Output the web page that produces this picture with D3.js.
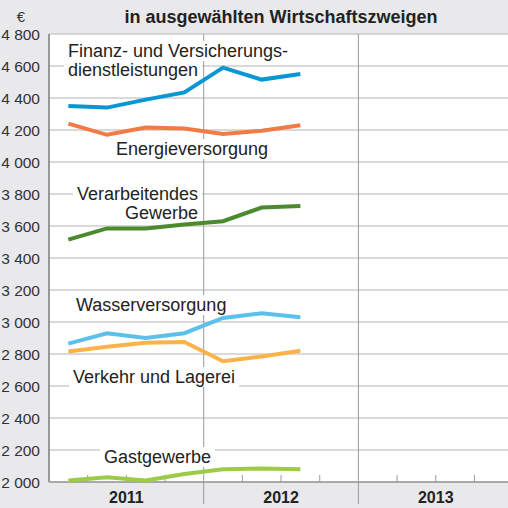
<!DOCTYPE html>
<html>
<head>
<meta charset="utf-8">
<script src="https://cdn.jsdelivr.net/npm/d3@7"></script>
<style>
  body { margin: 0; background: #e9e9eb; }
  svg { display: block; font-family: "Liberation Sans", Arial, sans-serif; }
</style>
</head>
<body>
<div id="chart"></div>
<script>
// Data: quarterly values Q1 2011 .. Q3 2012 (EUR)
const years = ["2011", "2012", "2013"];
const quarterIdx = [0, 1, 2, 3, 4, 5, 6];
const finanz = [4350, 4340, 4390, 4435, 4590, 4515, 4550];
const energie = [4240, 4170, 4215, 4210, 4175, 4195, 4230];
const verarbeitend = [3515, 3585, 3585, 3610, 3630, 3715, 3725];
const wasser = [2865, 2930, 2900, 2930, 3025, 3055, 3030];
const verkehr = [2815, 2845, 2870, 2875, 2755, 2785, 2820];
const gast = [2010, 2030, 2010, 2050, 2080, 2085, 2080];
const yTicks = [2000, 2200, 2400, 2600, 2800, 3000, 3200, 3400, 3600, 3800, 4000, 4200, 4400, 4600, 4800];

const series = [
  { name: "finanz", values: finanz, color: "#0a96d4" },
  { name: "energie", values: energie, color: "#f27b45" },
  { name: "verarbeitend", values: verarbeitend, color: "#4b8a2d" },
  { name: "wasser", values: wasser, color: "#5cc0eb" },
  { name: "verkehr", values: verkehr, color: "#fbb24b" },
  { name: "gast", values: gast, color: "#9ccb47" }
];

const W = 508, H = 508;
const plotLeft = 49, plotTop = 34, plotBottom = 482;

const svg = d3.select("#chart")
  .append("svg")
  .attr("width", W)
  .attr("height", H);

// Scales: x in quarters (3 years = 12 quarters)
const x = d3.scaleLinear().domain([0, 12]).range([plotLeft, plotLeft + 3 * 154.7]);
const y = d3.scaleLinear().domain([2000, 4800]).range([plotBottom, plotTop]);

// Plot background
svg.append("rect")
  .attr("x", plotLeft)
  .attr("y", plotTop)
  .attr("width", W - plotLeft)
  .attr("height", plotBottom - plotTop)
  .attr("fill", "#fff");

// Horizontal grid
svg.append("g")
  .selectAll("line")
  .data(yTicks)
  .enter()
  .append("line")
  .attr("x1", plotLeft)
  .attr("x2", W)
  .attr("y1", d => y(d))
  .attr("y2", d => y(d))
  .style("stroke", "#b4b4b4")
  .style("stroke-width", 1);

// Year dividers
svg.append("g")
  .selectAll("line")
  .data([4, 8])
  .enter()
  .append("line")
  .attr("x1", d => x(d))
  .attr("x2", d => x(d))
  .attr("y1", plotTop)
  .attr("y2", H - 4)
  .style("stroke", "#9a9a9a")
  .style("stroke-width", 1);

// Quarter ticks
svg.append("g")
  .selectAll("line")
  .data([1, 2, 3, 5, 6, 7, 9, 10, 11])
  .enter()
  .append("line")
  .attr("x1", d => x(d))
  .attr("x2", d => x(d))
  .attr("y1", plotBottom - 7)
  .attr("y2", plotBottom)
  .style("stroke", "#9a9a9a")
  .style("stroke-width", 1);

// Axis lines
svg.append("line")
  .attr("x1", plotLeft).attr("x2", plotLeft)
  .attr("y1", plotTop).attr("y2", plotBottom)
  .style("stroke", "#7a7a7a").style("stroke-width", 1.5);
svg.append("line")
  .attr("x1", plotLeft).attr("x2", W)
  .attr("y1", plotBottom).attr("y2", plotBottom)
  .style("stroke", "#9a9a9a").style("stroke-width", 1.5);

// Y tick labels
svg.append("g")
  .selectAll("text")
  .data(yTicks)
  .enter()
  .append("text")
  .attr("x", 40)
  .attr("y", d => y(d))
  .attr("dy", "0.36em")
  .attr("text-anchor", "end")
  .style("font-size", "15.5px")
  .style("fill", "#333")
  .text(d => d3.format(",")(d).replace(",", " "));

svg.append("text")
  .attr("x", 21).attr("y", 22)
  .attr("text-anchor", "middle")
  .style("font-size", "15px")
  .style("fill", "#333")
  .text("€");

// Title
svg.append("text")
  .attr("x", 281).attr("y", 23)
  .attr("text-anchor", "middle")
  .style("font-size", "18px")
  .style("font-weight", "700")
  .style("fill", "#222")
  .text("in ausgewählten Wirtschaftszweigen");

// Year labels
svg.append("g")
  .selectAll("text")
  .data(years)
  .enter()
  .append("text")
  .attr("x", (d, i) => x(i * 4 + 2))
  .attr("y", 503)
  .attr("text-anchor", "middle")
  .style("font-size", "16px")
  .style("font-weight", "700")
  .style("fill", "#222")
  .text(d => d);

// Series labels (white box behind each line of text)
const labels = [
  { lines: ["Finanz- und Versicherungs-", "dienstleistungen"], x: 68, y: 57, anchor: "start" },
  { lines: ["Energieversorgung"], x: 116, y: 155, anchor: "start" },
  { lines: ["Verarbeitendes", "Gewerbe"], x: 198, y: 200, anchor: "end" },
  { lines: ["Wasserversorgung"], x: 76, y: 311, anchor: "start" },
  { lines: ["Verkehr und Lagerei"], x: 73, y: 383, anchor: "start" },
  { lines: ["Gastgewerbe"], x: 104, y: 463, anchor: "start" }
];

const labelG = svg.append("g");
labels.forEach(l => {
  l.lines.forEach((t, i) => {
    const txt = labelG.append("text")
      .attr("x", l.x)
      .attr("y", l.y + i * 19)
      .attr("text-anchor", l.anchor)
      .style("font-size", "18px")
      .style("fill", "#222")
      .text(t);
    const b = txt.node().getBBox();
    labelG.insert("rect", "text")
      .attr("x", b.x - 4)
      .attr("y", b.y)
      .attr("width", b.width + 8)
      .attr("height", b.height)
      .attr("fill", "#fff");
  });
});

// Lines
const line = d3.line()
  .x((d, i) => x(quarterIdx[i] + 0.5))
  .y(d => y(d));

svg.append("g")
  .selectAll("path")
  .data(series)
  .enter()
  .append("path")
  .attr("d", d => line(d.values))
  .attr("fill", "none")
  .attr("stroke", d => d.color)
  .attr("stroke-width", 4)
  .attr("stroke-linejoin", "miter");
</script>
</body>
</html>
